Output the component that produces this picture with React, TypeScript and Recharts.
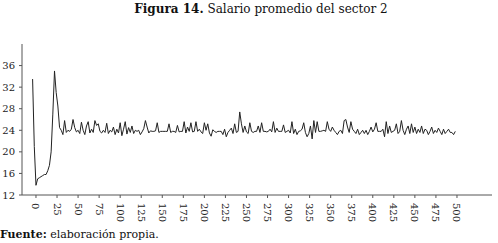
import React from 'react';
import { LineChart, Line, XAxis, YAxis } from 'recharts';

// salario promedio, un valor cada 2 periodos desde -4
const inicioX = -4;
const paso = 2;

const salario = [
  33.5, 21.0, 13.8, 15.0, 15.2, 15.4, 15.6, 15.8, 15.8, 16.5,
  17.5, 20.0, 27.0, 35.0, 31.0, 28.5, 24.5, 24.0, 23.2, 25.8,
  23.6, 24.0, 23.8, 24.2, 26.0, 24.5, 23.7, 24.0, 23.4, 25.5,
  24.0, 23.2, 24.8, 25.6, 23.5, 24.2, 23.6, 25.8, 24.9, 25.2,
  23.8, 23.5, 24.0, 23.6, 25.3, 23.4, 24.0, 23.7, 24.6, 23.2,
  24.2, 23.5, 25.4, 23.0, 24.2, 25.6, 23.3, 24.5, 23.6, 24.8,
  23.4, 24.0, 23.8, 24.0, 23.2, 23.7, 24.3, 25.8, 24.6, 23.5,
  23.9, 23.8, 23.8, 23.9, 25.4, 23.6, 23.8, 23.8, 23.8, 23.8,
  23.8, 25.2, 23.6, 23.8, 23.8, 23.6, 24.9, 23.7, 23.8, 23.8,
  25.6, 23.5, 24.6, 23.8, 25.4, 23.7, 23.8, 25.6, 23.8, 24.2,
  23.7, 23.4, 25.4, 24.0, 25.2, 23.5, 22.9, 24.1, 23.8, 23.6,
  23.8, 23.8, 23.8, 23.2, 24.2, 22.8, 23.6, 24.0, 24.4, 23.4,
  25.2, 23.6, 23.8, 27.4, 25.2, 23.6, 24.8, 23.7, 23.4, 25.4,
  23.8, 23.6, 23.8, 23.8, 24.8, 23.6, 25.4, 23.8, 23.8, 23.7,
  23.8, 24.2, 23.7, 25.6, 23.6, 24.4, 23.8, 23.8, 23.8, 25.0,
  23.6, 23.8, 24.0, 23.5, 25.6, 23.4, 24.2, 23.2, 23.8, 23.9,
  24.2, 25.4, 23.6, 22.8, 23.4, 24.8, 22.4, 25.8, 23.6, 25.6,
  23.8, 23.8, 23.9, 24.0, 23.8, 25.6, 24.2, 23.8, 24.6, 24.0,
  23.6, 23.2, 23.8, 24.0, 23.4, 25.8, 26.0, 24.6, 23.6, 25.6,
  24.2, 23.8, 23.4, 24.2, 23.2, 23.6, 24.0, 23.4, 24.0, 23.2,
  23.8, 24.6, 23.7, 24.2, 25.4, 23.8, 23.8, 23.8, 24.2, 22.8,
  25.6, 23.4, 24.8, 23.6, 23.8, 24.0, 25.2, 23.4, 23.8, 25.8,
  24.0, 23.2, 24.2, 24.8, 23.4, 25.2, 23.6, 24.6, 23.4, 24.2,
  23.6, 24.8, 23.4, 24.2, 24.0, 23.2, 23.8, 24.6, 23.4, 24.0,
  23.6, 24.4, 23.8, 23.2, 24.2, 23.4, 23.8, 24.2, 23.6, 23.6,
  23.2, 23.8,
];

const xTicks = [0, 25, 50, 75, 100, 125, 150, 175, 200, 225, 250, 275, 300, 325, 350, 375, 400, 425, 450, 475, 500];
const yTicks = [12, 16, 20, 24, 28, 32, 36];

const data = salario.map((v, i) => ({ periodo: inicioX + i * paso, salario: v }));

const font = '"DejaVu Serif", serif';
const ejeColor = '#555';

const RotatedTick = (props: any) => {
  const { x, y, payload } = props;
  return (
    <text
      x={0}
      y={0}
      transform={`translate(${x - 3.5},${y + 3}) rotate(90)`}
      textAnchor="start"
      fontSize={10}
      fontFamily={font}
      fill="#222"
    >
      {payload.value}
    </text>
  );
};

export default function App() {
  return (
    <div style={{ position: 'fixed', left: 0, top: 0, width: 498, height: 243, background: '#fff' }}>
      <div
        style={{
          position: 'absolute',
          top: 1,
          left: 0,
          width: 522,
          textAlign: 'center',
          fontFamily: font,
          fontSize: 12,
          color: '#111',
          lineHeight: '16px',
        }}
      >
        <b>Figura 14.</b> Salario promedio del sector 2
      </div>
      <div style={{ position: 'absolute', left: 0, top: 0 }}>
        <LineChart width={498} height={243} data={data} margin={{ top: 44, right: 6, bottom: 0, left: 0 }}>
          <XAxis
            dataKey="periodo"
            type="number"
            domain={[-16.6, 541.6]}
            ticks={xTicks}
            interval={0}
            height={48}
            tick={<RotatedTick />}
            tickSize={3}
            stroke={ejeColor}
          />
          <YAxis
            type="number"
            domain={[12, 40]}
            ticks={yTicks}
            interval={0}
            width={22}
            tickSize={3}
            tickMargin={4}
            stroke={ejeColor}
            tick={{ fontSize: 10, fontFamily: font, fill: '#222' }}
          />
          <Line
            type="linear"
            dataKey="salario"
            stroke="#222"
            strokeWidth={1}
            dot={false}
            isAnimationActive={false}
          />
        </LineChart>
      </div>
      <div
        style={{
          position: 'absolute',
          left: 0,
          top: 228,
          fontFamily: font,
          fontSize: 11,
          color: '#111',
          lineHeight: '14px',
        }}
      >
        <b>Fuente:</b> elaboración propia.
      </div>
    </div>
  );
}
